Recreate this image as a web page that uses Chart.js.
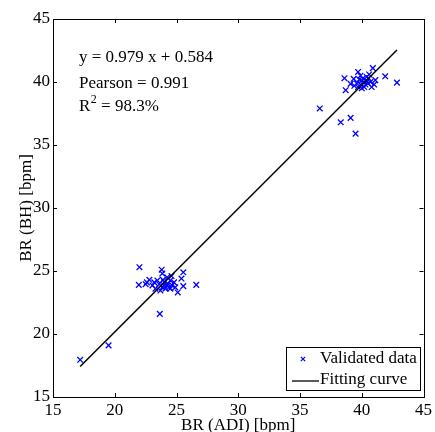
<!DOCTYPE html>
<html>
<head>
<meta charset="utf-8">
<script src="https://cdn.jsdelivr.net/npm/chart.js@4"></script>
<style>
html,body{margin:0;padding:0;background:#fff;}
#wrap{width:435px;height:432px;position:relative;}
</style>
</head>
<body>
<div id="wrap"><canvas id="c"></canvas></div>
<script>
// Validated data: BR (ADI) vs BR (BH)
const adiBR = [
  17.2, 19.5,
  22.0, 21.95, 23.8, 23.85, 25.55, 25.4, 25.55, 26.6, 25.1, 23.65, 22.8, 22.6, 22.5, 23.05,
  23.3, 23.45, 23.85, 24.0, 24.25, 24.5, 24.8, 24.9, 24.4, 24.1, 23.7, 24.65, 23.2, 23.6,
  24.5, 24.25, 24.0, 24.3, 23.9, 24.6,
  36.6, 38.3, 39.1, 39.5, 38.6, 38.7, 39.1, 39.35, 39.7, 39.7, 39.9, 40.0, 40.2, 40.2,
  40.4, 40.55, 40.7, 40.8, 40.9, 41.0, 41.1, 41.9, 42.85, 39.6, 39.8, 40.1, 40.3, 40.5,
  40.6, 39.4, 40.0, 40.4, 39.9
];
const bhBR = [
  17.95, 19.1,
  25.3, 23.9, 25.1, 24.8, 24.9, 24.4, 23.8, 23.9, 23.3, 21.6, 24.3, 24.1, 23.95, 23.85,
  23.6, 24.25, 23.7, 24.1, 24.5, 24.25, 24.1, 23.7, 23.7, 23.6, 23.45, 23.85, 24.1, 23.95,
  23.6, 23.85, 23.85, 24.0, 24.3, 24.6,
  37.9, 36.8, 37.15, 35.9, 40.3, 39.35, 39.85, 40.25, 40.8, 39.6, 39.8, 40.1, 40.0, 39.6,
  40.4, 40.3, 40.0, 39.6, 41.1, 39.8, 40.15, 40.45, 39.95, 39.9, 40.2, 40.3, 39.8, 39.9,
  40.6, 39.7, 39.5, 40.1, 40.5
];
const fitSlope = 0.979;
const fitIntercept = 0.584;
const pearson = '0.991';
const r2 = '98.3%';
const xTicks = [15, 20, 25, 30, 35, 40, 45];
const yTicks = [15, 20, 25, 30, 35, 40, 45];
const legendLabels = ['Validated data', 'Fitting curve'];
const xTitle = 'BR (ADI) [bpm]';
const yTitle = 'BR (BH) [bpm]';

const pts = adiBR.map((x, i) => ({x: x, y: bhBR[i]}));
const xMin = Math.min(...adiBR), xMax = Math.max(...adiBR);
const fitPts = [xMin, xMax].map(x => ({x: x, y: fitSlope * x + fitIntercept}));

const FONT = 'Liberation Serif';

const extras = {
  id: 'extras',
  afterDraw(chart) {
    const ctx = chart.ctx;
    const a = chart.chartArea;
    const xs = chart.scales.x, ys = chart.scales.y;
    ctx.save();
    // box
    ctx.strokeStyle = '#000';
    ctx.lineWidth = 1;
    ctx.strokeRect(Math.round(a.left) + 0.5, Math.round(a.top) + 0.5, Math.round(a.right - a.left), Math.round(a.bottom - a.top));
    // inward ticks
    const tl = 4;
    ctx.beginPath();
    xTicks.forEach(v => {
      const px = Math.round(xs.getPixelForValue(v)) + 0.5;
      ctx.moveTo(px, a.bottom); ctx.lineTo(px, a.bottom - tl);
      ctx.moveTo(px, a.top); ctx.lineTo(px, a.top + tl);
    });
    yTicks.forEach(v => {
      const py = Math.round(ys.getPixelForValue(v)) + 0.5;
      ctx.moveTo(a.left, py); ctx.lineTo(a.left + tl, py);
      ctx.moveTo(a.right, py); ctx.lineTo(a.right - tl, py);
    });
    ctx.stroke();

    // annotation text
    ctx.fillStyle = '#000';
    ctx.font = '17px "' + FONT + '"';
    ctx.textBaseline = 'alphabetic';
    ctx.textAlign = 'left';
    const tx = a.left + 26;
    ctx.fillText('y = ' + fitSlope + ' x + ' + fitIntercept, tx, a.top + 43);
    ctx.fillText('Pearson = ' + pearson, tx, a.top + 69);
    ctx.fillText('R', tx, a.top + 92);
    const rw = ctx.measureText('R').width;
    ctx.font = '12px "' + FONT + '"';
    ctx.fillText('2', tx + rw + 0.5, a.top + 84);
    const sw = ctx.measureText('2').width;
    ctx.font = '17px "' + FONT + '"';
    ctx.fillText(' = ' + r2, tx + rw + sw + 0.5, a.top + 92);

    // legend
    const lx = 286.5, ly = 347.5, lw = 134, lh = 43;
    ctx.fillStyle = '#fff';
    ctx.fillRect(lx, ly, lw, lh);
    ctx.strokeStyle = '#000';
    ctx.lineWidth = 1;
    ctx.strokeRect(lx, ly, lw, lh);
    // marker
    const mx = 303, my = 359, r = 2.2;
    ctx.strokeStyle = '#0000ff';
    ctx.lineWidth = 1.2;
    ctx.beginPath();
    ctx.moveTo(mx - r, my - r); ctx.lineTo(mx + r, my + r);
    ctx.moveTo(mx - r, my + r); ctx.lineTo(mx + r, my - r);
    ctx.stroke();
    // line
    ctx.strokeStyle = '#000';
    ctx.lineWidth = 1.3;
    ctx.beginPath();
    ctx.moveTo(292, 381); ctx.lineTo(319, 381);
    ctx.stroke();
    ctx.fillStyle = '#000';
    ctx.font = '17px "' + FONT + '"';
    ctx.textBaseline = 'middle';
    ctx.fillText(legendLabels[0], 320, 359);
    ctx.fillText(legendLabels[1], 320, 380);
    ctx.restore();
  }
};

new Chart(document.getElementById('c'), {
  type: 'scatter',
  data: {
    datasets: [
      {
        type: 'line',
        label: legendLabels[1],
        data: fitPts,
        borderColor: '#000',
        borderWidth: 1.5,
        pointRadius: 0,
        fill: false,
        order: 0
      },
      {
        label: legendLabels[0],
        data: pts,
        pointStyle: 'crossRot',
        pointRadius: 4,
        borderColor: '#0000ff',
        backgroundColor: '#0000ff',
        pointBorderWidth: 1.3,
        order: 1
      }
    ]
  },
  options: {
    responsive: true,
    maintainAspectRatio: false,
    animation: false,
    layout: {padding: {top: 19, right: 8, left: 0, bottom: 0}},
    plugins: {legend: {display: false}, tooltip: {enabled: false}},
    scales: {
      x: {
        type: 'linear',
        min: 15, max: 45,
        afterBuildTicks: s => { s.ticks = xTicks.map(v => ({value: v})); },
        afterFit: s => { s.height = 35; },
        grid: {display: false, drawTicks: false},
        border: {display: false},
        ticks: {color: '#000', font: {family: FONT, size: 17}, padding: 3, maxRotation: 0, autoSkip: false},
        title: {display: true, text: xTitle, color: '#000', font: {family: FONT, size: 17, lineHeight: 0.8}, padding: {top: 0, bottom: 0}}
      },
      y: {
        type: 'linear',
        min: 15, max: 45,
        afterBuildTicks: s => { s.ticks = yTicks.map(v => ({value: v})); },
        afterFit: s => { s.width = 53; },
        grid: {display: false, drawTicks: false},
        border: {display: false},
        ticks: {color: '#000', font: {family: FONT, size: 17}, padding: 3, autoSkip: false},
        title: {display: true, text: yTitle, color: '#000', font: {family: FONT, size: 17, lineHeight: 0.8}, padding: {top: 20, bottom: 0}}
      }
    }
  },
  plugins: [extras]
});
</script>
</body>
</html>
